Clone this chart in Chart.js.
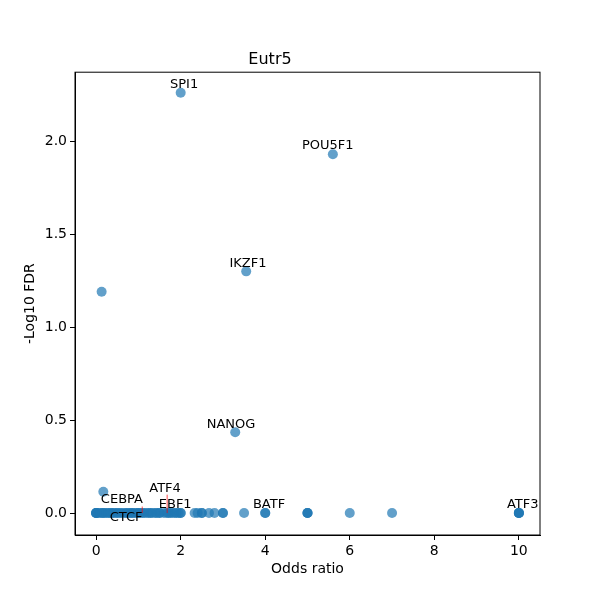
<!DOCTYPE html>
<html>
<head>
<meta charset="utf-8">
<script src="https://cdn.jsdelivr.net/npm/chart.js@4.4.1/dist/chart.umd.min.js"></script>
<style>
  html, body { margin: 0; padding: 0; background: #fff; }
</style>
</head>
<body>
<canvas id="chart" width="600" height="600"></canvas>
<script>
// odds ratio (x) and -log10 FDR (y) for each motif
var oddsRatio = [
  0, 0, 0, 0, 0.05, 0.1, 0.14, 0.17, 0.2, 0.25, 0.29, 0.33, 0.36, 0.4, 0.43, 0.5, 0.5, 0.57,
  0.6, 0.67, 0.71, 0.75, 0.8, 0.83, 0.86, 0.9, 0.95, 1.0, 1.0, 1.05, 1.1, 1.14, 1.2, 1.25, 1.29,
  1.33, 1.4, 1.43, 1.5, 1.5, 1.6, 1.67, 1.71, 1.75, 1.8, 1.86, 1.9, 1.95, 2.0, 2.0,
  2.33, 2.4, 2.5, 2.5, 2.67, 2.8, 3.0, 3.0, 3.5, 4.0, 4.0, 5.0, 5.0, 5.0,
  6.0, 7.0, 10, 10, 10, 10,
  0.13, 0.17, 3.29, 3.55, 2.0, 5.6
];
var negLogFdr = [
  0, 0, 0, 0, 0, 0, 0, 0, 0, 0, 0, 0, 0, 0, 0, 0, 0, 0,
  0, 0, 0, 0, 0, 0, 0, 0, 0, 0, 0, 0, 0, 0, 0, 0, 0,
  0, 0, 0, 0, 0, 0, 0, 0, 0, 0, 0, 0, 0, 0, 0,
  0, 0, 0, 0, 0, 0, 0, 0, 0, 0, 0, 0, 0, 0,
  0, 0, 0, 0, 0, 0,
  1.19, 0.115, 0.435, 1.30, 2.26, 1.93
];

// labelled motifs: point and where the text sits
var labelNames = ['SPI1', 'POU5F1', 'IKZF1', 'NANOG', 'ATF4', 'CEBPA', 'EBF1', 'CTCF', 'BATF', 'ATF3'];
var labelPointX = [2.0, 5.6, 3.55, 3.29, 1.68, 1.09, 2.0, 0.5, 4.0, 10];
var labelPointY = [2.26, 1.93, 1.30, 0.435, 0, 0, 0, 0, 0, 0];
var labelTextX = [2.08, 5.48, 3.59, 3.19, 1.63, 0.61, 1.87, 0.71, 4.09, 10.09];
var labelTextY = [2.306, 1.978, 1.344, 0.478, 0.134, 0.070, 0.048, -0.027, 0.048, 0.048];

var xTicks = [0, 2, 4, 6, 8, 10];
var yTicks = [0, 0.5, 1.0, 1.5, 2.0];

var font = "'DejaVu Sans', sans-serif";

var points = oddsRatio.map(function (x, i) { return { x: x, y: negLogFdr[i] }; });

var labelPlugin = {
  id: 'labels',
  afterDatasetsDraw: function (chart) {
    var ctx = chart.ctx;
    var a = chart.chartArea;
    var xs = chart.scales.x, ys = chart.scales.y;
    ctx.save();
    ctx.font = '13px ' + font;
    ctx.textAlign = 'center';
    ctx.textBaseline = 'middle';
    for (var i = 0; i < labelNames.length; i++) {
      var tx = xs.getPixelForValue(labelTextX[i]);
      var ty = ys.getPixelForValue(labelTextY[i]);
      var px = xs.getPixelForValue(labelPointX[i]);
      var py = ys.getPixelForValue(labelPointY[i]);
      var w = ctx.measureText(labelNames[i]).width;
      var h = 13;
      var ex = Math.min(Math.max(px, tx - w / 2), tx + w / 2);
      var ey = Math.min(Math.max(py, ty - h / 2), ty + h / 2);
      if (Math.hypot(px - ex, py - ey) > 3) {
        ctx.strokeStyle = 'red';
        ctx.lineWidth = 0.7;
        ctx.beginPath();
        ctx.moveTo(ex, ey);
        ctx.lineTo(px, py);
        ctx.stroke();
      }
      ctx.fillStyle = '#000';
      ctx.fillText(labelNames[i], tx, ty);
    }
    // full box round the plot
    ctx.strokeStyle = '#000';
    ctx.lineWidth = 1;
    ctx.strokeRect(a.left, a.top, a.right - a.left, a.bottom - a.top);
    ctx.restore();
  }
};

new Chart(document.getElementById('chart'), {
  type: 'scatter',
  data: {
    datasets: [{
      data: points,
      backgroundColor: 'rgba(31,119,180,0.7)',
      borderWidth: 0,
      pointRadius: 5,
      pointHoverRadius: 5
    }]
  },
  options: {
    responsive: false,
    animation: false,
    devicePixelRatio: 1,
    layout: { padding: { top: 0, right: 60, bottom: 0, left: 0 } },
    plugins: {
      legend: { display: false },
      tooltip: { enabled: false },
      title: {
        display: true,
        text: 'Eutr5',
        color: '#000',
        font: { family: font, size: 16, weight: 'normal' },
        padding: { top: 50, bottom: 3 }
      }
    },
    scales: {
      x: {
        type: 'linear',
        min: -0.5,
        max: 10.5,
        afterFit: function (s) { s.height = 65; },
        afterBuildTicks: function (s) { s.ticks = xTicks.map(function (v) { return { value: v }; }); },
        grid: { drawOnChartArea: false, drawTicks: true, tickLength: 5, color: '#000' },
        border: { color: '#000' },
        ticks: { color: '#000', padding: 3, font: { family: font, size: 14 },
          callback: function (v) { return String(v); } },
        title: { display: true, text: 'Odds ratio', color: '#000',
          font: { family: font, size: 14 }, padding: { top: 0, bottom: 22 } }
      },
      y: {
        type: 'linear',
        min: -0.118,
        max: 2.371,
        afterFit: function (s) { s.width = 75; },
        afterBuildTicks: function (s) { s.ticks = yTicks.map(function (v) { return { value: v }; }); },
        grid: { drawOnChartArea: false, drawTicks: true, tickLength: 5, color: '#000' },
        border: { color: '#000' },
        ticks: { color: '#000', padding: 3, font: { family: font, size: 14 },
          callback: function (v) { return v.toFixed(1); } },
        title: { display: true, text: '-Log10 FDR', color: '#000',
          font: { family: font, size: 14 }, padding: { top: 22, bottom: 0 } }
      }
    }
  },
  plugins: [labelPlugin]
});
</script>
</body>
</html>
